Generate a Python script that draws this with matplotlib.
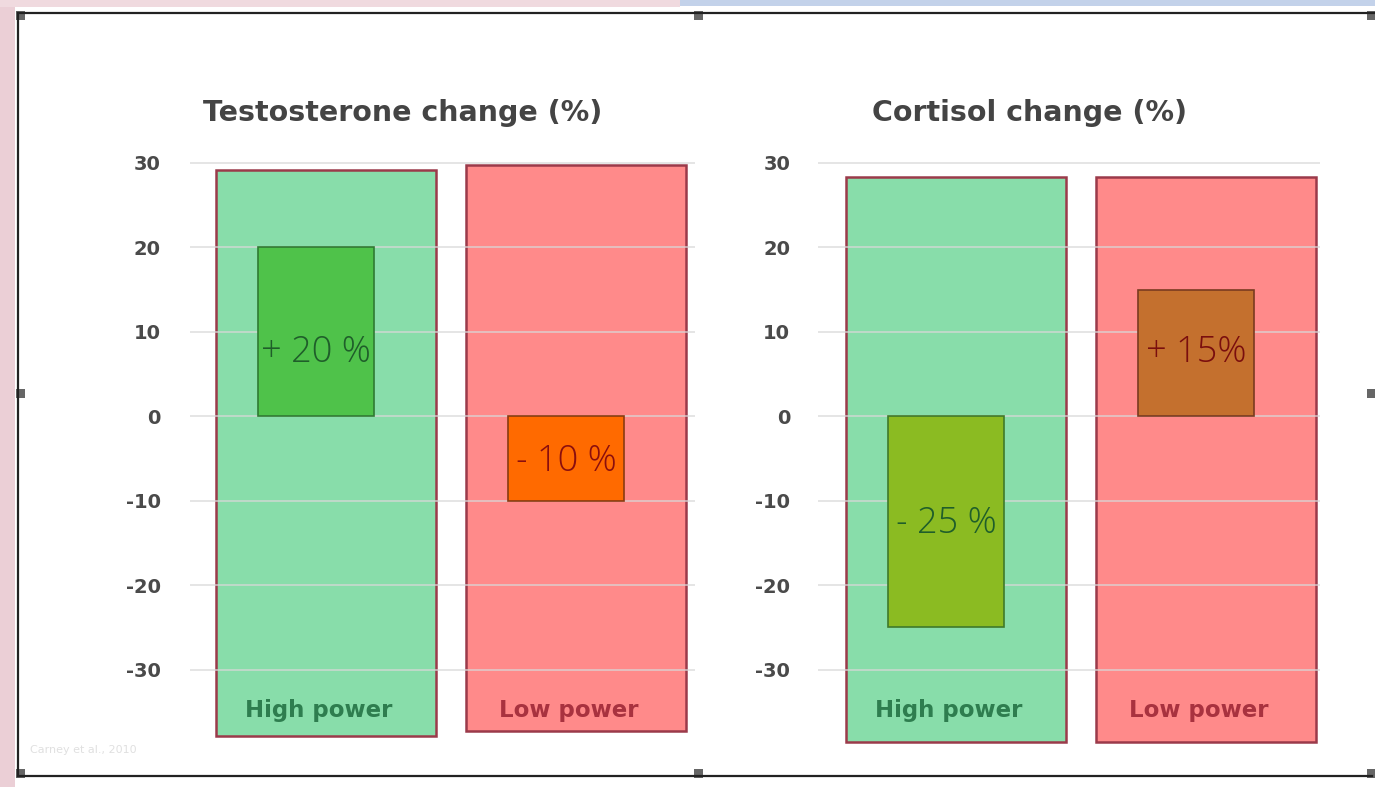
import matplotlib
matplotlib.use("Agg")
import matplotlib.pyplot as plt
from matplotlib.patches import Rectangle

# ---- data ----
panel_titles = ["Testosterone change (%)", "Cortisol change (%)"]
categories = ["High power", "Low power"]
testosterone_values = [20, -10]
cortisol_values = [-25, 15]
testosterone_labels = ["+ 20 %", "- 10 %"]
cortisol_labels = ["- 25 %", "+ 15%"]
testosterone_label_y = [7.6, -5.3]
cortisol_label_y = [-12.7, 7.6]
# background panels (top, bottom) per category
testosterone_bg_top = [29.2, 29.8]
testosterone_bg_bottom = [-37.9, -37.3]
cortisol_bg_top = [28.3, 28.3]
cortisol_bg_bottom = [-38.6, -38.6]
yticks = [30, 20, 10, 0, -10, -20, -30]
credit = "Carney et al., 2010"

# ---- styles ----
W, H = 1375, 787
fig = plt.figure(figsize=(W / 100, H / 100), dpi=100)
fig.patch.set_facecolor("white")

bg_colors = ["#88DDAA", "#FF8A8A"]
bg_edge = "#9B3A4A"
cat_colors = ["#2E7D4F", "#A8323F"]
bar_colors = [["#4FC24A", "#FF6A00"], ["#8BBB22", "#C4702E"]]
bar_edges = [["#2F7A33", "#8A3A10"], ["#3F7A2A", "#7A3A20"]]
label_colors = [["#1F5E2A", "#8A0E0E"], ["#1F5E2A", "#7A0E0E"]]

ymin, ymax = -40, 32
px_per_unit = 8.45
y_top_px = 163 - (ymax - 30) * px_per_unit
y_bot_px = 416 + (-ymin) * px_per_unit

panels = [
    dict(x0=190, x1=695, c0=326, sp=250.5, vals=testosterone_values,
         labs=testosterone_labels, laby=testosterone_label_y,
         bt=testosterone_bg_top, bb=testosterone_bg_bottom, title_x=403, pad=21),
    dict(x0=818, x1=1320, c0=956, sp=250.0, vals=cortisol_values,
         labs=cortisol_labels, laby=cortisol_label_y,
         bt=cortisol_bg_top, bb=cortisol_bg_bottom, title_x=1030, pad=20),
]

for pi, p in enumerate(panels):
    ax = fig.add_axes([p["x0"] / W, 1 - y_bot_px / H,
                       (p["x1"] - p["x0"]) / W, (y_bot_px - y_top_px) / H])
    xl = (p["x0"] - p["c0"]) / p["sp"]
    xr = (p["x1"] - p["c0"]) / p["sp"]
    ax.set_xlim(xl, xr)
    ax.set_ylim(ymin, ymax)
    for s in ax.spines.values():
        s.set_visible(False)
    ax.set_xticks([])
    ax.set_yticks(yticks)
    ax.set_yticklabels([str(t) for t in yticks], fontsize=14, fontweight="bold",
                       color="#4A4A4A", family="DejaVu Sans")
    ax.tick_params(axis="y", length=0, pad=p["pad"])
    ax.set_facecolor("none")
    for t in yticks:
        ax.axhline(t, color="#D8D8D8", lw=1.2, zorder=3, alpha=0.8)

    bgw = 220 / p["sp"]
    barw = 116 / p["sp"]
    off = -0.04
    for i, cat in enumerate(categories):
        ax.add_patch(Rectangle((i - bgw / 2, p["bb"][i]), bgw, p["bt"][i] - p["bb"][i],
                               facecolor=bg_colors[i], edgecolor=bg_edge, lw=1.8, zorder=1))
        ax.bar(i + off, p["vals"][i], width=barw, color=bar_colors[pi][i],
               edgecolor=bar_edges[pi][i], lw=1.2, zorder=4)
        ax.text(i + off, p["laby"][i], p["labs"][i], ha="center", va="center",
                fontsize=26, color=label_colors[pi][i], family="Open Sans",
                fontweight="light", zorder=5)
        ax.text(i - 0.03, -34.9, cat, ha="center", va="center", fontsize=16.5,
                fontweight="bold", color=cat_colors[i], family="DejaVu Sans", zorder=5)

    fig.text(p["title_x"] / W, 1 - 113 / H, panel_titles[pi], ha="center", va="center",
             fontsize=20.5, fontweight="bold", color="#444444", family="DejaVu Sans")

fig.text(30 / W, 1 - 750 / H, credit, ha="left", va="center", fontsize=8, color="#E0E0E0")

# ---- screenshot frame decorations ----
deco = fig.add_axes([0, 0, 1, 1], zorder=-1)
deco.set_xlim(0, W)
deco.set_ylim(H, 0)
deco.axis("off")
deco.add_patch(Rectangle((0, 0), 15, H, facecolor="#EBCFD6", lw=0))
deco.add_patch(Rectangle((0, 0), 680, 7, facecolor="#F0DADF", lw=0))
deco.add_patch(Rectangle((680, 0), W - 680, 6, facecolor="#C3D2EA", lw=0))
top = fig.add_axes([0, 0, 1, 1], zorder=10)
top.set_xlim(0, W)
top.set_ylim(H, 0)
top.axis("off")
top.plot([18, W], [13, 13], color="#222222", lw=1.6)
top.plot([18, 18], [13, 776], color="#222222", lw=1.6)
top.plot([18, 1372], [776, 776], color="#222222", lw=1.6)
for (hx, hy) in [(20, 15), (698, 15), (1371, 15), (20, 393), (1371, 393),
                 (20, 773), (698, 773), (1371, 773)]:
    top.add_patch(Rectangle((hx - 4, hy - 4), 9, 9, facecolor="#666666", lw=0))

fig.savefig("out.png", dpi=100)
